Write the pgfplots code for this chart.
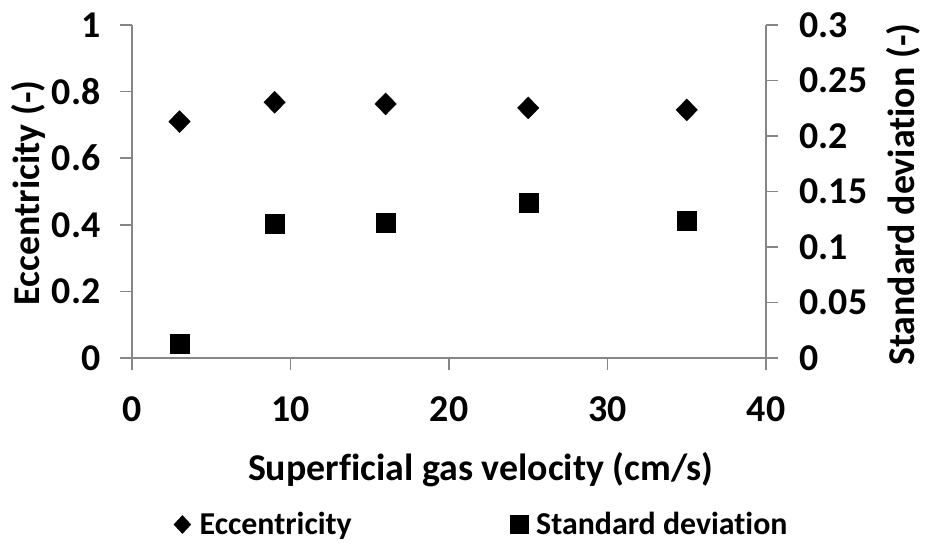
\documentclass[border=0pt]{standalone}
\usepackage{pgfplots}
\pgfplotsset{compat=1.18}
\usepackage{fontspec}
\setmainfont{Carlito}[Ligatures=CommonOff]

\definecolor{axgray}{RGB}{134,134,134}

\pgfplotstableread{
x ecc
3 0.710
9 0.768
16 0.763
25 0.751
35 0.745
}\ecctable

\pgfplotstableread{
x sd
3 0.013
9 0.1206
16 0.122
25 0.140
35 0.124
}\sdtable

\newcommand{\chartfont}{\bfseries\fontsize{38}{45}\selectfont}
\newcommand{\legfont}{\bfseries\fontsize{32}{38}\selectfont}

\pgfplotsset{
  widemark/.style={
    legend image code/.code={%
      \draw[##1] plot coordinates {(9bp,0bp)};
      \path (0bp,0bp) (24bp,0bp);},
  },
}

\begin{document}
\begin{tikzpicture}
\useasboundingbox (-132bp,-188bp) rectangle (793bp,358bp);
\pgfplotsset{
  every axis/.append style={
    scale only axis, width=634bp, height=333bp,
    xmin=0, xmax=40,
    font=\chartfont,
    tick label style={font=\chartfont},
    /pgf/number format/assume math mode=true,
    axis line style={axgray, line width=1.5pt},
    tick style={axgray, line width=1.5pt},
    major tick length=12bp,
    tick align=outside,
  },
}

\begin{axis}[
  axis y line*=left, axis x line*=bottom,
  ymin=0, ymax=1, ytick={0,0.2,0.4,0.6,0.8,1},
  xtick={0,10,20,30,40},
  yticklabel style={/pgf/number format/fixed, xshift=-16bp},
  xticklabel style={yshift=-23bp},
  xlabel={Superficial gas velocity (cm/s)},
  ylabel={Eccentricity (-)},
  xlabel style={at={(axis description cs:0.55,-0.336)}, anchor=center},
  ylabel style={at={(axis description cs:-0.164,0.496)}, anchor=center},
]
\addplot[only marks, mark=diamond*, mark size=11bp, mark options={xscale=1.3, fill=black, draw=black}]
  table[x=x, y=ecc] {\ecctable};
\end{axis}

\begin{axis}[
  axis y line*=right, axis x line=none,
  ymin=0, ymax=0.3, ytick={0,0.05,0.1,0.15,0.2,0.25,0.3},
  yticklabel style={/pgf/number format/fixed, /pgf/number format/precision=2, xshift=18bp},
  ylabel={Standard deviation (-)},
  ylabel style={at={(axis description cs:1.217,0.49)}, anchor=center},
  legend style={at={(axis description cs:0.551,-0.50)}, anchor=center,
    draw=none, fill=none, font=\legfont, legend columns=2,
    /tikz/every even column/.append style={column sep=156bp}},
]
\addlegendimage{only marks, widemark, mark=diamond*, mark size=9bp, mark options={xscale=1.25, fill=black, draw=black}}
\addlegendimage{only marks, widemark, mark=square*, mark size=9bp, mark options={fill=black, draw=black}}
\addplot[only marks, mark=square*, mark size=9.5bp, mark options={fill=black, draw=black}, forget plot]
  table[x=x, y=sd] {\sdtable};
\legend{Eccentricity, Standard deviation}
\end{axis}
\end{tikzpicture}
\end{document}
